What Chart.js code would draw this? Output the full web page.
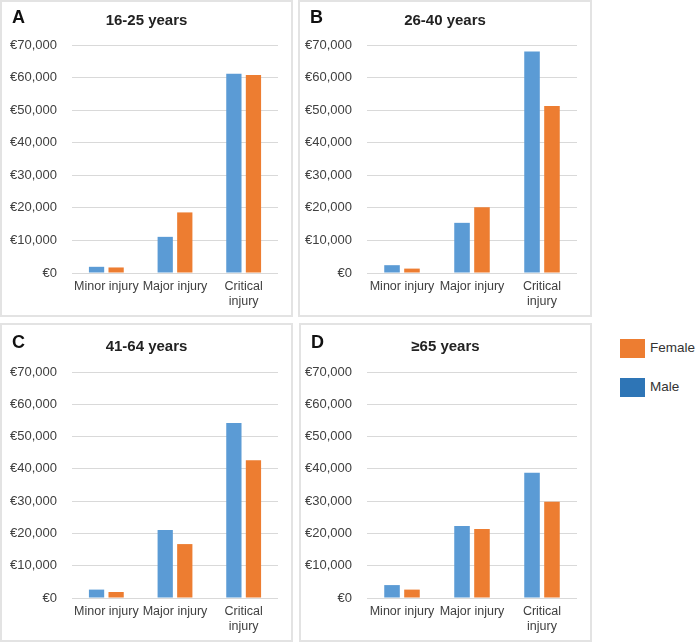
<!DOCTYPE html>
<html>
<head>
<meta charset="utf-8">
<script src="https://cdn.jsdelivr.net/npm/chart.js@4.4.1/dist/chart.umd.min.js"></script>
<style>
  body { margin: 0; background: #fff; font-family: "Liberation Sans", Arial, sans-serif; }
  #wrap { position: relative; width: 700px; height: 644px; overflow: hidden; }
  .panel { position: absolute; box-shadow: inset 0 0 0 2px #e3e3e3; }
  .panel canvas { position: absolute; left: 0; top: 0; }
  .letter { position: absolute; left: 12px; font-weight: bold; font-size: 18px; line-height: 20px; color: #111; }
  .title { position: absolute; left: 0; right: 0; text-align: center; font-weight: bold; font-size: 15px; line-height: 18px; color: #222; }
  .legend { position: absolute; left: 620px; font-size: 13.5px; color: #333; }
  .legend span.sw { position: absolute; left: 0; width: 25px; height: 19px; }
  .legend span.tx { position: absolute; left: 30px; top: 1px; white-space: nowrap; }
</style>
</head>
<body>
<div id="wrap">
  <div class="legend" style="top:339px"><span class="sw" style="background:#ED7D31"></span><span class="tx">Female</span></div>
  <div class="legend" style="top:378px"><span class="sw" style="background:#2E75B6"></span><span class="tx">Male</span></div>
</div>
<script>
// Categorías y valores
const categorias = ["Minor injury", "Major injury", ["Critical", "injury"]];
const letras = ["A", "B", "C", "D"];
const titulos = ["16-25 years", "26-40 years", "41-64 years", "≥65 years"];

const masculinoA = [1900, 11100, 61200];
const femeninoA = [1700, 18600, 60800];
const masculinoB = [2400, 15400, 68000];
const femeninoB = [1350, 20200, 51300];
const masculinoC = [2600, 21100, 54200];
const femeninoC = [1850, 16700, 42700];
const masculinoD = [4000, 22300, 38800];
const femeninoD = [2600, 21400, 29800];

const ejeMax = 70000;
const ejePaso = 10000;

// Posición de cada panel: x, y, ancho, alto, borde del área de dibujo
const paneles = [
  { x: 0, y: 0, w: 293, h: 317, izq: 72, der: 278, arriba: 45, abajo: 273, tituloTop: 11, letraTop: 7, m: masculinoA, f: femeninoA },
  { x: 298, y: 0, w: 294, h: 317, izq: 69, der: 279, arriba: 45, abajo: 273, tituloTop: 11, letraTop: 7, m: masculinoB, f: femeninoB },
  { x: 0, y: 323, w: 293, h: 319, izq: 72, der: 278, arriba: 49, abajo: 275, tituloTop: 14, letraTop: 9, m: masculinoC, f: femeninoC },
  { x: 299, y: 323, w: 293, h: 319, izq: 68, der: 278, arriba: 49, abajo: 275, tituloTop: 14, letraTop: 9, m: masculinoD, f: femeninoD }
];

const wrap = document.getElementById("wrap");
const anchoEjeY = 66;
const altoEjeX = 36;

function formatoEuro(v) {
  return "€" + v.toLocaleString("en-US");
}

paneles.forEach((p, i) => {
  const div = document.createElement("div");
  div.className = "panel";
  div.style.left = p.x + "px";
  div.style.top = p.y + "px";
  div.style.width = p.w + "px";
  div.style.height = p.h + "px";

  const canvas = document.createElement("canvas");
  canvas.width = p.w;
  canvas.height = p.h;
  div.appendChild(canvas);

  const letra = document.createElement("div");
  letra.className = "letter";
  letra.style.top = p.letraTop + "px";
  letra.innerText = letras[i];
  div.appendChild(letra);

  const titulo = document.createElement("div");
  titulo.className = "title";
  titulo.style.top = p.tituloTop + "px";
  titulo.innerText = titulos[i];
  div.appendChild(titulo);

  wrap.appendChild(div);

  new Chart(canvas.getContext("2d"), {
    type: "bar",
    data: {
      labels: categorias,
      datasets: [
        { label: "Male", data: p.m, backgroundColor: "#5B9BD5", categoryPercentage: 0.57, barPercentage: 0.78 },
        { label: "Female", data: p.f, backgroundColor: "#ED7D31", categoryPercentage: 0.57, barPercentage: 0.78 }
      ]
    },
    options: {
      responsive: false,
      animation: false,
      layout: {
        padding: {
          left: p.izq - anchoEjeY,
          right: p.w - p.der,
          top: p.arriba,
          bottom: p.h - p.abajo - altoEjeX
        }
      },
      plugins: { legend: { display: false }, tooltip: { enabled: false } },
      scales: {
        x: {
          grid: { display: false, drawTicks: false },
          border: { display: false },
          afterFit: s => { s.height = altoEjeX; },
          ticks: {
            autoSkip: false, maxRotation: 0, minRotation: 0, padding: 6,
            color: "#404040",
            font: { family: "Liberation Sans", size: 12.5, lineHeight: 1.2 }
          }
        },
        y: {
          min: 0, max: ejeMax,
          grid: { color: "#d9d9d9", lineWidth: 1, drawTicks: false },
          border: { display: false },
          afterFit: s => { s.width = anchoEjeY; },
          ticks: {
            stepSize: ejePaso, padding: 15,
            color: "#404040",
            font: { family: "Liberation Sans", size: 13 },
            callback: v => formatoEuro(v)
          }
        }
      }
    }
  });
});
</script>
</body>
</html>
